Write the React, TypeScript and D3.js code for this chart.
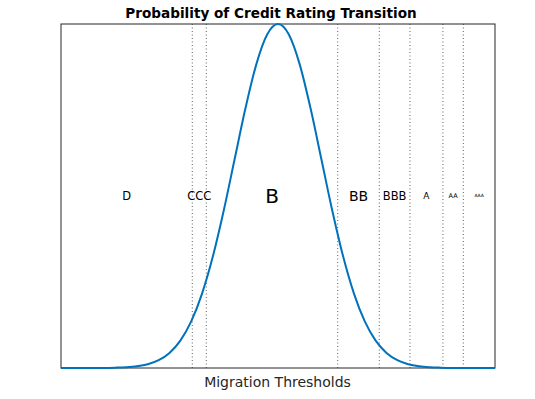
import React, { useEffect, useRef } from 'react';
import * as d3 from 'd3';

const zHalf = [0, 0.25, 0.5, 0.75, 1, 1.25, 1.5, 1.75, 2, 2.25, 2.5, 2.75, 3, 3.25, 3.5, 3.75, 4, 4.5, 5];
const densityHalf = [0.3989, 0.3867, 0.3521, 0.3011, 0.242, 0.1826, 0.1295, 0.0863, 0.054, 0.0317, 0.0175, 0.0091, 0.0044, 0.002, 0.0009, 0.0004, 0.0001, 0.0, 0.0];

// migration thresholds (z units)
const thresholds = [-1.975, -1.652, 1.376, 2.334, 3.041, 3.8, 4.27];
const ratings = ['D', 'CCC', 'B', 'BB', 'BBB', 'A', 'AA', 'AAA'];
const ratingFontPx = [11.5, 11.5, 20, 14, 11.5, 9, 6.5, 4.5];

const App = () => {
  const svgRef = useRef<SVGSVGElement>(null);

  useEffect(() => {
    const svg = d3.select(svgRef.current);
    svg.selectAll('*').remove();

    const margin = { top: 24, right: 40, bottom: 31, left: 61 };
    const W = 535, H = 399;
    const width = W - margin.left - margin.right;
    const height = H - margin.top - margin.bottom;

    const x = d3.scaleLinear().domain([-5, 5]).range([0, width]);
    const y = d3.scaleLinear().domain([0, 0.3989]).range([height, 0]);

    const g = svg.append('g').attr('transform', `translate(${margin.left},${margin.top})`);

    // build full curve from mirrored half
    const pts: [number, number][] = [];
    for (let i = zHalf.length - 1; i > 0; i--) pts.push([-zHalf[i], densityHalf[i]]);
    for (let i = 0; i < zHalf.length; i++) pts.push([zHalf[i], densityHalf[i]]);

    // threshold lines
    g.selectAll('.thr')
      .data(thresholds)
      .enter().append('line')
      .attr('x1', d => x(d)).attr('x2', d => x(d))
      .attr('y1', 0).attr('y2', height)
      .attr('stroke', '#1a1a1a')
      .attr('stroke-width', 0.7)
      .attr('stroke-dasharray', '1,2.5');

    // rating labels between thresholds
    const bounds = [-5, ...thresholds, 5];
    g.selectAll('.lbl')
      .data(ratings)
      .enter().append('text')
      .attr('x', (d, i) => x((bounds[i] + bounds[i + 1]) / 2))
      .attr('y', y(0.2))
      .attr('dy', '0.36em')
      .attr('text-anchor', 'middle')
      .style('font-family', 'DejaVu Sans, sans-serif')
      .style('font-size', (d, i) => ratingFontPx[i] + 'px')
      .style('fill', '#000')
      .text(d => d);

    // axes box
    g.append('rect')
      .attr('x', 0).attr('y', 0)
      .attr('width', width).attr('height', height)
      .attr('fill', 'none')
      .attr('stroke', '#262626')
      .attr('stroke-width', 1);

    g.append('path')
      .datum(pts)
      .attr('fill', 'none')
      .attr('stroke', '#0072BD')
      .attr('stroke-width', 2)
      .attr('d', d3.line<[number, number]>()
        .x(d => x(d[0]))
        .y(d => y(d[1]))
        .curve(d3.curveMonotoneX));

    // title
    svg.append('text')
      .attr('x', 271)
      .attr('y', 18)
      .attr('text-anchor', 'middle')
      .style('font-family', 'DejaVu Sans, sans-serif')
      .style('font-weight', 'bold')
      .style('font-size', '13.6px')
      .style('fill', '#000')
      .text('Probability of Credit Rating Transition');

    // x-axis label
    svg.append('text')
      .attr('x', 277.5)
      .attr('y', 387)
      .attr('text-anchor', 'middle')
      .style('font-family', 'DejaVu Sans, sans-serif')
      .style('font-size', '14px')
      .style('fill', '#262626')
      .text('Migration Thresholds');
  }, []);

  return <svg ref={svgRef} width={535} height={399} style={{ position: 'absolute', left: 0, top: 0 }} />;
};

export default App;
